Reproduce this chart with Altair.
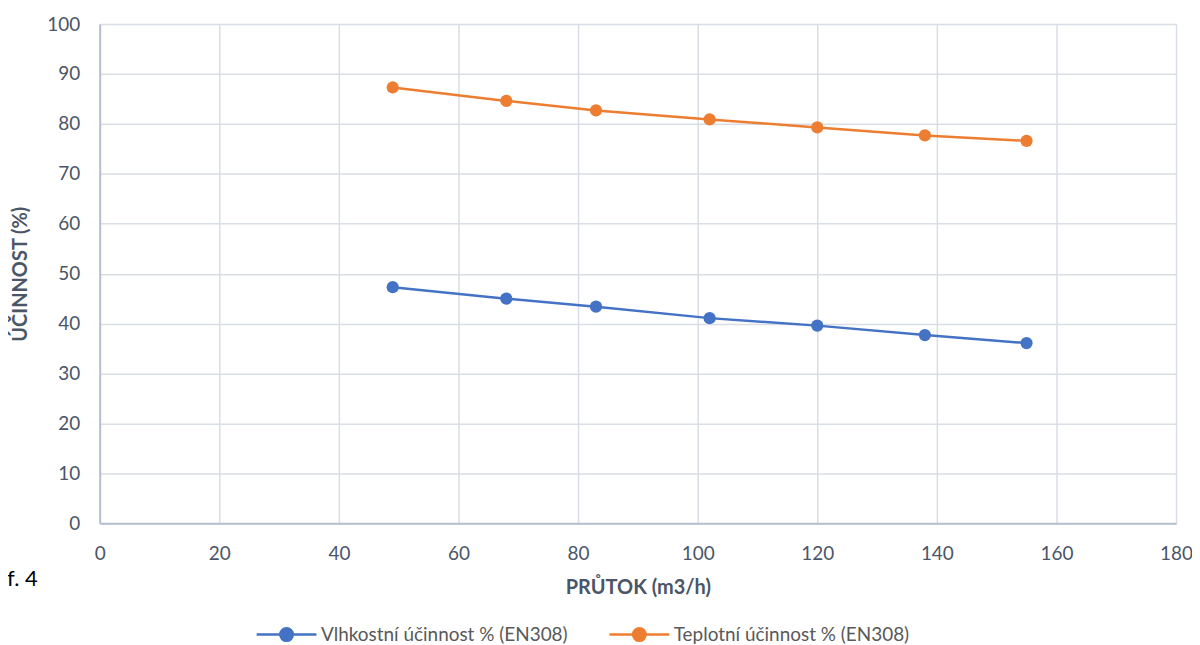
import altair as alt
import pandas as pd

x_vals = [49, 68, 83, 102, 120, 138, 155]
vlhkostni = [47.3, 45.0, 43.4, 41.1, 39.6, 37.7, 36.1]
teplotni = [87.3, 84.6, 82.7, 80.9, 79.3, 77.7, 76.6]
series_names = ["Vlhkostní účinnost % (EN308)", "Teplotní účinnost % (EN308)"]
series_colors = ["#4472C4", "#ED7D31"]
x_ticks = [0, 20, 40, 60, 80, 100, 120, 140, 160, 180]
y_ticks = [0, 10, 20, 30, 40, 50, 60, 70, 80, 90, 100]

rows = []
for x, v in zip(x_vals, vlhkostni):
    rows.append({"x": x, "y": v, "s": series_names[0]})
for x, v in zip(x_vals, teplotni):
    rows.append({"x": x, "y": v, "s": series_names[1]})
df = pd.DataFrame(rows)

FONT = "Lato"
TXT = "#4A5568"
sym = "M-1,0H1M-0.21,0A0.21,0.21,0,1,1,0.21,0A0.21,0.21,0,1,1,-0.21,0Z"

base = alt.Chart(df)
lines = base.mark_line(strokeWidth=2.5, point=alt.OverlayMarkDef(filled=True, size=150, opacity=1)).encode(
    x=alt.X("x:Q", scale=alt.Scale(domain=[0, 180], nice=False),
            axis=alt.Axis(values=x_ticks, title="PRŮTOK (m3/h)", labelPadding=21,
                          titlePadding=14, grid=True, labelFlush=False)),
    y=alt.Y("y:Q", scale=alt.Scale(domain=[0, 100], nice=False),
            axis=alt.Axis(values=y_ticks, title="ÚČINNOST (%)", labelPadding=20,
                          titlePadding=16, grid=True, labelFlush=False)),
    color=alt.Color("s:N", scale=alt.Scale(domain=series_names, range=series_colors),
                    legend=alt.Legend(title=None, orient="none", direction="horizontal",
                                      legendX=156, legendY=581, symbolType=sym, symbolSize=3600,
                                      symbolStrokeWidth=2.5, labelFontSize=19, labelFont=FONT,
                                      labelColor="#595959", labelOffset=3, columnPadding=36,
                                      labelLimit=0)),
)

note = alt.Chart(pd.DataFrame({"t": ["f. 4"]})).mark_text(
    align="left", baseline="middle", fontSize=22, font=FONT, color="#000000"
).encode(x=alt.value(-93), y=alt.value(557), text="t:N")

chart = alt.layer(lines, note).properties(
    width=1080, height=501,
    padding={"left": 92, "top": 15, "right": 16, "bottom": 130},
    autosize=alt.AutoSizeParams(type="none"),
).configure_view(stroke=None).configure_axis(
    labelFont=FONT, labelFontSize=19, labelColor=TXT,
    titleFont=FONT, titleFontSize=20, titleFontWeight="bold", titleColor=TXT,
    gridColor="#D9DEE6", gridWidth=1.5, domainColor="#B4BFCF", domainWidth=2,
    ticks=False,
)

chart.save("out.html", embed_options={"renderer": "svg", "actions": False})
